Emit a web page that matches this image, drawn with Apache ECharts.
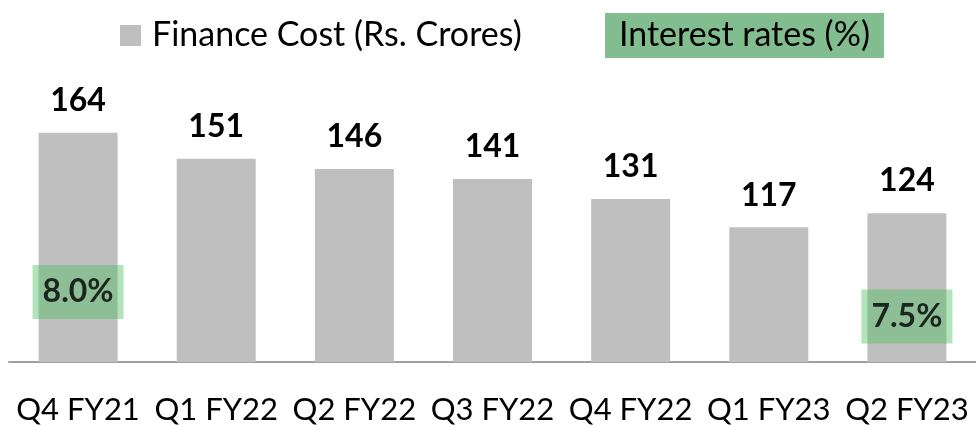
<!DOCTYPE html>
<html><head><meta charset="utf-8">
<script src="https://cdn.jsdelivr.net/npm/echarts@6/dist/echarts.min.js"></script>
<style>html,body{margin:0;padding:0;background:#fff}#c{width:976px;height:425px}</style>
</head><body><div id="c"></div>
<script>
const categories = ['Q4 FY21','Q1 FY22','Q2 FY22','Q3 FY22','Q4 FY22','Q1 FY23','Q2 FY23'];
const financeCost = [164,151,146,141,131,117,124];
const interestRates = [8.0,null,null,null,null,null,7.5];
const FONT = 'Lato';
const chart = echarts.init(document.getElementById('c'));
chart.setOption({
  animation:false,
  legend:[{
    left:115, top:13.5, itemWidth:21, itemHeight:21, icon:'rect',
    textStyle:{fontFamily:FONT,fontSize:34,lineHeight:34,color:'#000',padding:[0,0,0,6]},
    data:['Finance Cost (Rs. Crores)']
  },{
    left:595, top:8, icon:'none', itemWidth:0, itemGap:0,
    data:[{name:'Interest rates (%)'}],
    textStyle:{fontFamily:FONT,fontSize:34,lineHeight:34,color:'#000',backgroundColor:'#81BD8E',padding:[6,14,5,14]}
  }],
  grid:{left:9,width:975,top:100.5,bottom:63},
  xAxis:{type:'category',data:categories,
    axisLine:{lineStyle:{color:'#A0A0A0',width:2}},axisTick:{show:false},
    axisLabel:{fontFamily:FONT,fontSize:31,color:'#000',margin:32,interval:0}},
  yAxis:[{type:'value',min:50,max:180,show:false,splitLine:{show:false}},
         {type:'value',min:6.57,max:11.91,show:false,splitLine:{show:false}}],
  series:[{
    name:'Finance Cost (Rs. Crores)',type:'bar',data:financeCost,barWidth:79,
    itemStyle:{color:'#BFBFBF'},
    label:{show:true,position:'top',distance:16,fontFamily:FONT,fontWeight:'bold',fontSize:32,color:'#000'}
  },{
    name:'Interest rates (%)',type:'scatter',yAxisIndex:1,data:interestRates,symbolSize:0,
    itemStyle:{color:'#81BD8E'},
    label:{show:true,position:'inside',formatter:p=>p.value.toFixed(1)+'%',
      fontFamily:FONT,fontWeight:'bold',fontSize:32,color:'#000',
      backgroundColor:'rgba(75,189,94,0.53)',padding:[8,10,8,10],lineHeight:38}
  }]
});
</script></body></html>
